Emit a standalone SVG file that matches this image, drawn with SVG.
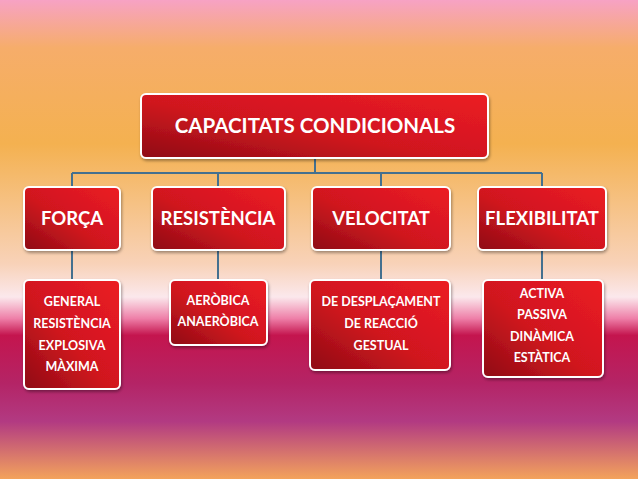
<svg xmlns="http://www.w3.org/2000/svg" width="638" height="479" viewBox="0 0 638 479">
<defs>
<linearGradient id="bg" x1="0" y1="0" x2="0" y2="1">
<stop offset="0" stop-color="#f7a2c4"/>
<stop offset="0.1" stop-color="#f6ad6a"/>
<stop offset="0.3" stop-color="#f4b150"/>
<stop offset="0.55" stop-color="#f8d2b8"/>
<stop offset="0.62" stop-color="#fbe8ec"/>
<stop offset="0.665" stop-color="#ee7fa8"/>
<stop offset="0.7" stop-color="#c4154e"/>
<stop offset="0.8" stop-color="#b42466"/>
<stop offset="0.88" stop-color="#b23a82"/>
<stop offset="1" stop-color="#f3a35c"/>
</linearGradient>
<linearGradient id="box" x1="0" y1="1" x2="1" y2="0">
<stop offset="0" stop-color="#8e0c14"/>
<stop offset="0.45" stop-color="#d0161f"/>
<stop offset="1" stop-color="#ec1c24"/>
</linearGradient>
<filter id="sh" x="-10%" y="-10%" width="130%" height="130%"><feDropShadow dx="1" dy="2" stdDeviation="1.5" flood-color="#000" flood-opacity="0.35"/></filter>
</defs>
<style>
.b{fill:url(#box);stroke:#fff;stroke-width:2;filter:url(#sh)}
.t{fill:#fff;font-family:Lato,"Open Sans",sans-serif;font-weight:bold;text-anchor:middle}
.l{font-size:18.5px}
.h{font-size:20.5px}
.s{font-size:12.5px}
.c line{stroke:#44708f;stroke-width:2}
</style>
<rect width="638" height="479" fill="url(#bg)"/>
<g class="c">
<line x1="315" y1="158" x2="315" y2="173"/>
<line x1="72" y1="173" x2="542" y2="173"/>
<line x1="72" y1="173" x2="72" y2="187"/>
<line x1="218" y1="173" x2="218" y2="187"/>
<line x1="381" y1="173" x2="381" y2="187"/>
<line x1="542" y1="173" x2="542" y2="187"/>
<line x1="72" y1="250" x2="72" y2="280"/>
<line x1="218" y1="250" x2="218" y2="280"/>
<line x1="381" y1="250" x2="381" y2="280"/>
<line x1="542" y1="250" x2="542" y2="280"/>
</g>
<g id="top"><rect class="b" x="141" y="94" width="347" height="64" rx="5"/><text class="t h" x="315" y="133">CAPACITATS CONDICIONALS</text></g>
<g id="forca"><rect class="b" x="24" y="187" width="96" height="63" rx="5"/><text class="t l" x="72" y="225">FORÇA</text></g>
<g id="resistencia"><rect class="b" x="152" y="187" width="133" height="63" rx="5"/><text class="t l" x="218" y="225">RESISTÈNCIA</text></g>
<g id="velocitat"><rect class="b" x="312" y="187" width="138" height="63" rx="5"/><text class="t l" x="381" y="225">VELOCITAT</text></g>
<g id="flexibilitat"><rect class="b" x="478" y="187" width="128" height="63" rx="5"/><text class="t l" x="542" y="225">FLEXIBILITAT</text></g>
<g id="forca-c"><rect class="b" x="24" y="280" width="96" height="109" rx="5"/>
<text class="t s" x="72" y="306">GENERAL</text><text class="t s" x="72" y="328">RESISTÈNCIA</text><text class="t s" x="72" y="350">EXPLOSIVA</text><text class="t s" x="72" y="371">MÀXIMA</text></g>
<g id="resistencia-c"><rect class="b" x="170" y="280" width="97" height="65" rx="5"/>
<text class="t s" x="218" y="305">AERÒBICA</text><text class="t s" x="218" y="326">ANAERÒBICA</text></g>
<g id="velocitat-c"><rect class="b" x="310" y="280" width="140" height="90" rx="5"/>
<text class="t s" x="381" y="306">DE DESPLAÇAMENT</text><text class="t s" x="381" y="328">DE REACCIÓ</text><text class="t s" x="381" y="350">GESTUAL</text></g>
<g id="flexibilitat-c"><rect class="b" x="483" y="280" width="120" height="97" rx="5"/>
<text class="t s" x="542" y="298">ACTIVA</text><text class="t s" x="542" y="319">PASSIVA</text><text class="t s" x="542" y="341">DINÀMICA</text><text class="t s" x="542" y="362">ESTÀTICA</text></g>
</svg>
